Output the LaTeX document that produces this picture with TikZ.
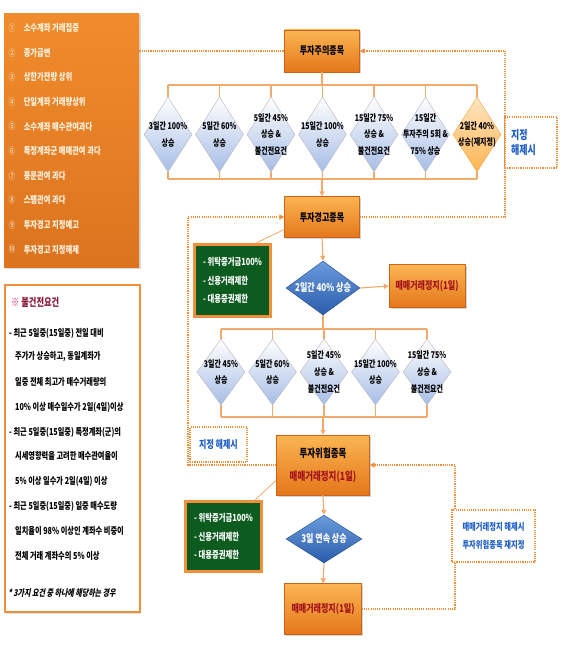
\documentclass[tikz,border=0pt]{standalone}
\usepackage{fontspec}
\setmainfont{Noto Sans CJK KR}[FakeStretch=0.75]
\newfontfamily\slantkr{Noto Sans CJK KR}[FakeSlant=0.2,FakeStretch=0.75]
\usetikzlibrary{arrows.meta,shapes.geometric,shadows,calc,positioning}

\definecolor{orgtop}{HTML}{FBB552}
\definecolor{orgbot}{HTML}{E4771A}
\definecolor{orgline}{HTML}{C9651A}
\definecolor{orgside}{HTML}{F08C2C}
\definecolor{orgsidebot}{HTML}{DC731F}
\definecolor{linkc}{HTML}{F2AA6C}
\definecolor{dotc}{HTML}{F0903C}
\definecolor{diablue}{HTML}{A6BDE6}
\definecolor{dialine}{HTML}{B8B4BC}
\definecolor{qtop}{HTML}{6A9BDD}
\definecolor{qbot}{HTML}{2B5CAB}
\definecolor{grn}{HTML}{0C5B1F}
\definecolor{redtxt}{HTML}{A3121C}
\definecolor{bluetxt}{HTML}{1E5EC6}
\definecolor{maroon}{HTML}{8E1B3C}
\definecolor{pinkmark}{HTML}{E3257F}
\definecolor{cream}{HTML}{FFF4E2}

\tikzset{
  box/.style={draw=orgline, top color=orgtop, bottom color=orgbot, align=center,
    font=\fontsize{10.7}{13}\selectfont\bfseries, inner sep=1pt,
    drop shadow={shadow xshift=1.5pt, shadow yshift=-1.5pt, opacity=.35}},
  dia/.style={diamond, draw=dialine, top color=white, bottom color=diablue,
    inner sep=0pt, minimum width=48pt, minimum height=75pt},
  dtext/.style={font=\fontsize{9.3}{16.5}\selectfont\bfseries, align=center},
  ques/.style={diamond, draw=qbot!85!black, top color=qtop, bottom color=qbot, inner sep=0pt},
  qtext/.style={font=\fontsize{10.7}{10}\selectfont\bfseries, text=white},
  notebox/.style={draw=dotc, line width=3pt, fill=grn, text=white, align=left,
    font=\fontsize{9.8}{18.5}\selectfont\bfseries,
    drop shadow={shadow xshift=1.5pt, shadow yshift=-1.5pt, opacity=.3}},
  dotline/.style={draw=dotc, line width=1.4pt, dash pattern=on 1.1pt off 1.1pt},
  dotarr/.style={dotline, -{Triangle[length=5pt,width=5pt]}},
  link/.style={draw=linkc, line width=1.1pt},
  arr/.style={link, -{Triangle[length=5pt,width=5pt]}},
  labbox/.style={dotline, text=bluetxt, align=left},
  listnum/.style={text=cream, font=\fontsize{9}{9}\selectfont, inner sep=0pt},
  listtxt/.style={text=cream, font=\fontsize{9.7}{9}\selectfont\bfseries, inner sep=0pt},
  ruletxt/.style={anchor=west, inner sep=0pt, font=\fontsize{9.6}{9}\selectfont\bfseries}
}

\begin{document}
\begin{tikzpicture}[x=1pt,y=-1pt]
\useasboundingbox (0,0) rectangle (560,647);

\node[top color=orgside, bottom color=orgsidebot, anchor=north west, minimum width=135pt, minimum height=254pt,
  drop shadow={shadow xshift=1.5pt, shadow yshift=-1.5pt, opacity=.3}] (list) at (4,13) {};
\foreach \n/\t [count=\i] in {①/소수계좌 거래집중, ②/종가급변, ③/상한가잔량 상위, ④/단일계좌 거래량상위,
    ⑤/소수계좌 매수관여과다, ⑥/특정계좌군 매매관여 과다, ⑦/풍문관여 과다, ⑧/스팸관여 과다,
    ⑨/투자경고 지정예고, ⑩/투자경고 지정해제}{
  \node[listnum] (n\i) at (12,{28+24.6*(\i-1)}) {\n};
  \node[listtxt, right=8pt of n\i] (l\i) {\t};
}

\node[draw=dotc, line width=2pt, fill=white, anchor=north west, minimum width=135pt, minimum height=327pt,
  drop shadow={shadow xshift=1pt, shadow yshift=-1.5pt, opacity=.25}] (rules) at (4,284) {};
\node[anchor=west, inner sep=0pt, font=\fontsize{11}{10}\selectfont\bfseries] (rtitle) at (11,302)
  {\textcolor{pinkmark}{※} \textcolor{maroon}{불건전요건}};
\foreach \x/\y/\t [count=\i] in {9/333/{- 최근 5일중(15일중) 전일 대비}, 15/357/{주가가 상승하고, 동일계좌가},
    15/382/{일중 전체 최고가 매수거래량의}, 15/407/{10\% 이상 매수일수가 2일(4일)이상},
    9/432/{- 최근 5일중(15일중) 특정계좌(군)의}, 15/456/{시세영향력을 고려한 매수관여율이},
    15/481/{5\% 이상 일수가 2일(4일) 이상}, 9/506/{- 최근 5일중(15일중) 일중 매수도량},
    15/531/{일치율이 98\% 이상인 계좌수 비중이}, 15/556/{전체 거래 계좌수의 5\% 이상}}{
  \node[ruletxt] (r\i) at (\x,\y) {\t};
}
\node[ruletxt, font=\fontsize{9.3}{9}\selectfont\slantkr\bfseries] (rnote) at (8,593) {* 3가지 요건 중 하나에 해당하는 경우};

\node[box, minimum width=75pt, minimum height=42pt] (watch) at (322,51) {투자주의종목};
\foreach \t [count=\i] in {{3일간 100\%\\상승}, {5일간 60\%\\상승}, {5일간 45\%\\상승 \&\\불건전요건},
    {15일간 100\%\\상승}, {15일간 75\%\\상승 \&\\불건전요건}, {15일간\\투자주의 5회 \&\\75\% 상승}}{
  \node[dia, label={[dtext]center:\t}] (a\i) at ({168+51.5*(\i-1)},134.5) {};
}
\node[dia, draw=orgtop!80!orgline, top color=orgtop!35!white, bottom color=orgtop,
  label={[dtext]center:{2일간 40\%\\상승(재지정)}}] (a7) at (477,134.5) {};

\coordinate (bar1) at (322,85);
\coordinate (bar2) at (322,179);
\draw[link] (watch.south) -- (bar1);
\draw[link] (a1.north |- bar1) -- (a7.north |- bar1);
\draw[link] (a1.south |- bar2) -- (a7.south |- bar2);
\foreach \i in {1,...,7}{
  \draw[link] (a\i.north |- bar1) -- (a\i.north);
  \draw[link] (a\i.south) -- (a\i.south |- bar2);
}

\node[box, minimum width=75pt, minimum height=41pt] (warn) at (322,217) {투자경고종목};
\draw[arr] (bar2) -- (warn.north);

\node[notebox, minimum width=76pt, minimum height=72pt] (note1) at (232.5,280.5)
  {- 위탁증거금100\%\\- 신용거래제한\\- 대용증권제한};
\draw[link, line width=.8pt] ($(warn.west)!0.6!(warn.south west)$) -- ($(note1.north east)!0.2!(note1.north west)$);

\node[ques, minimum width=74pt, minimum height=54pt, label={[qtext]center:2일간 40\% 상승}] (q1) at (323,288) {};
\node[box, text=redtxt, minimum width=76pt, minimum height=43pt] (halt1) at (427,286) {매매거래정지(1일)};
\draw[arr] (warn.south) -- (q1.north);
\draw[arr] (q1.east) -- (halt1.west);

\foreach \t [count=\i] in {{3일간 45\%\\상승}, {5일간 60\%\\상승}, {5일간 45\%\\상승 \&\\불건전요건},
    {15일간 100\%\\상승}, {15일간 75\%\\상승 \&\\불건전요건}}{
  \node[dia, minimum height=66pt, label={[dtext]center:\t}] (b\i) at ({221+51.5*(\i-1)},372) {};
}
\coordinate (bar3) at (323,329);
\coordinate (bar4) at (323,417);
\draw[link] (q1.south) -- (bar3);
\draw[link] (b1.north |- bar3) -- (b5.north |- bar3);
\draw[link] (b1.south |- bar4) -- (b5.south |- bar4);
\foreach \i in {1,...,5}{
  \draw[link] (b\i.north |- bar3) -- (b\i.north);
  \draw[link] (b\i.south) -- (b\i.south |- bar4);
}

\node[box, minimum width=93pt, minimum height=60pt, font=\fontsize{11.3}{23}\selectfont\bfseries] (risk) at (323,465)
  {투자위험종목\\\textcolor{redtxt}{매매거래정지(1일)}};
\draw[arr] (bar4) -- (risk.north);

\node[notebox, minimum width=76pt, minimum height=70pt] (note2) at (223.5,536.5)
  {- 위탁증거금100\%\\- 신용거래제한\\- 대용증권제한};
\draw[link, line width=.8pt] ($(risk.west)!0.5!(risk.south west)$) -- ($(note2.north east)!0.1!(note2.north west)$);

\node[ques, minimum width=76pt, minimum height=48pt, label={[qtext]center:3일 연속 상승}] (q2) at (324,539) {};
\node[box, text=redtxt, minimum width=77pt, minimum height=51pt] (halt2) at (323,609) {매매거래정지(1일)};
\draw[arr] (risk.south) -- (q2.north);
\draw[arr] (q2.south) -- (halt2.north);

\coordinate (rtop) at (505,51);
\coordinate (lmid) at (188,217);
\coordinate (rlow) at (455,465);
\draw[dotline] (list.east |- watch.west) -- (watch.west);
\draw[dotarr] (warn.east) -| (rtop) -- (watch.east);
\draw[dotarr] (risk.west) -| (lmid) -- (warn.west);
\draw[dotarr] (halt2.east) -| (rlow) -- (risk.east);

\node[labbox, fill=white, minimum width=52pt, minimum height=51pt, text width=40pt,
  font=\fontsize{12}{15}\selectfont\bfseries] (unmark1) at (531,142.5) {지정\\해제시};
\node[labbox, fill=white, minimum width=57pt, minimum height=35pt,
  font=\fontsize{10.7}{10}\selectfont\bfseries] (unmark2) at (218.5,444.5) {지정 해제시};
\node[labbox, fill=white, minimum width=83pt, minimum height=52pt,
  font=\fontsize{9.7}{18}\selectfont\bfseries] (unmark3) at (493.5,536) {매매거래정지 해제시\\투자위험종목 재지정};
\end{tikzpicture}
\end{document}
